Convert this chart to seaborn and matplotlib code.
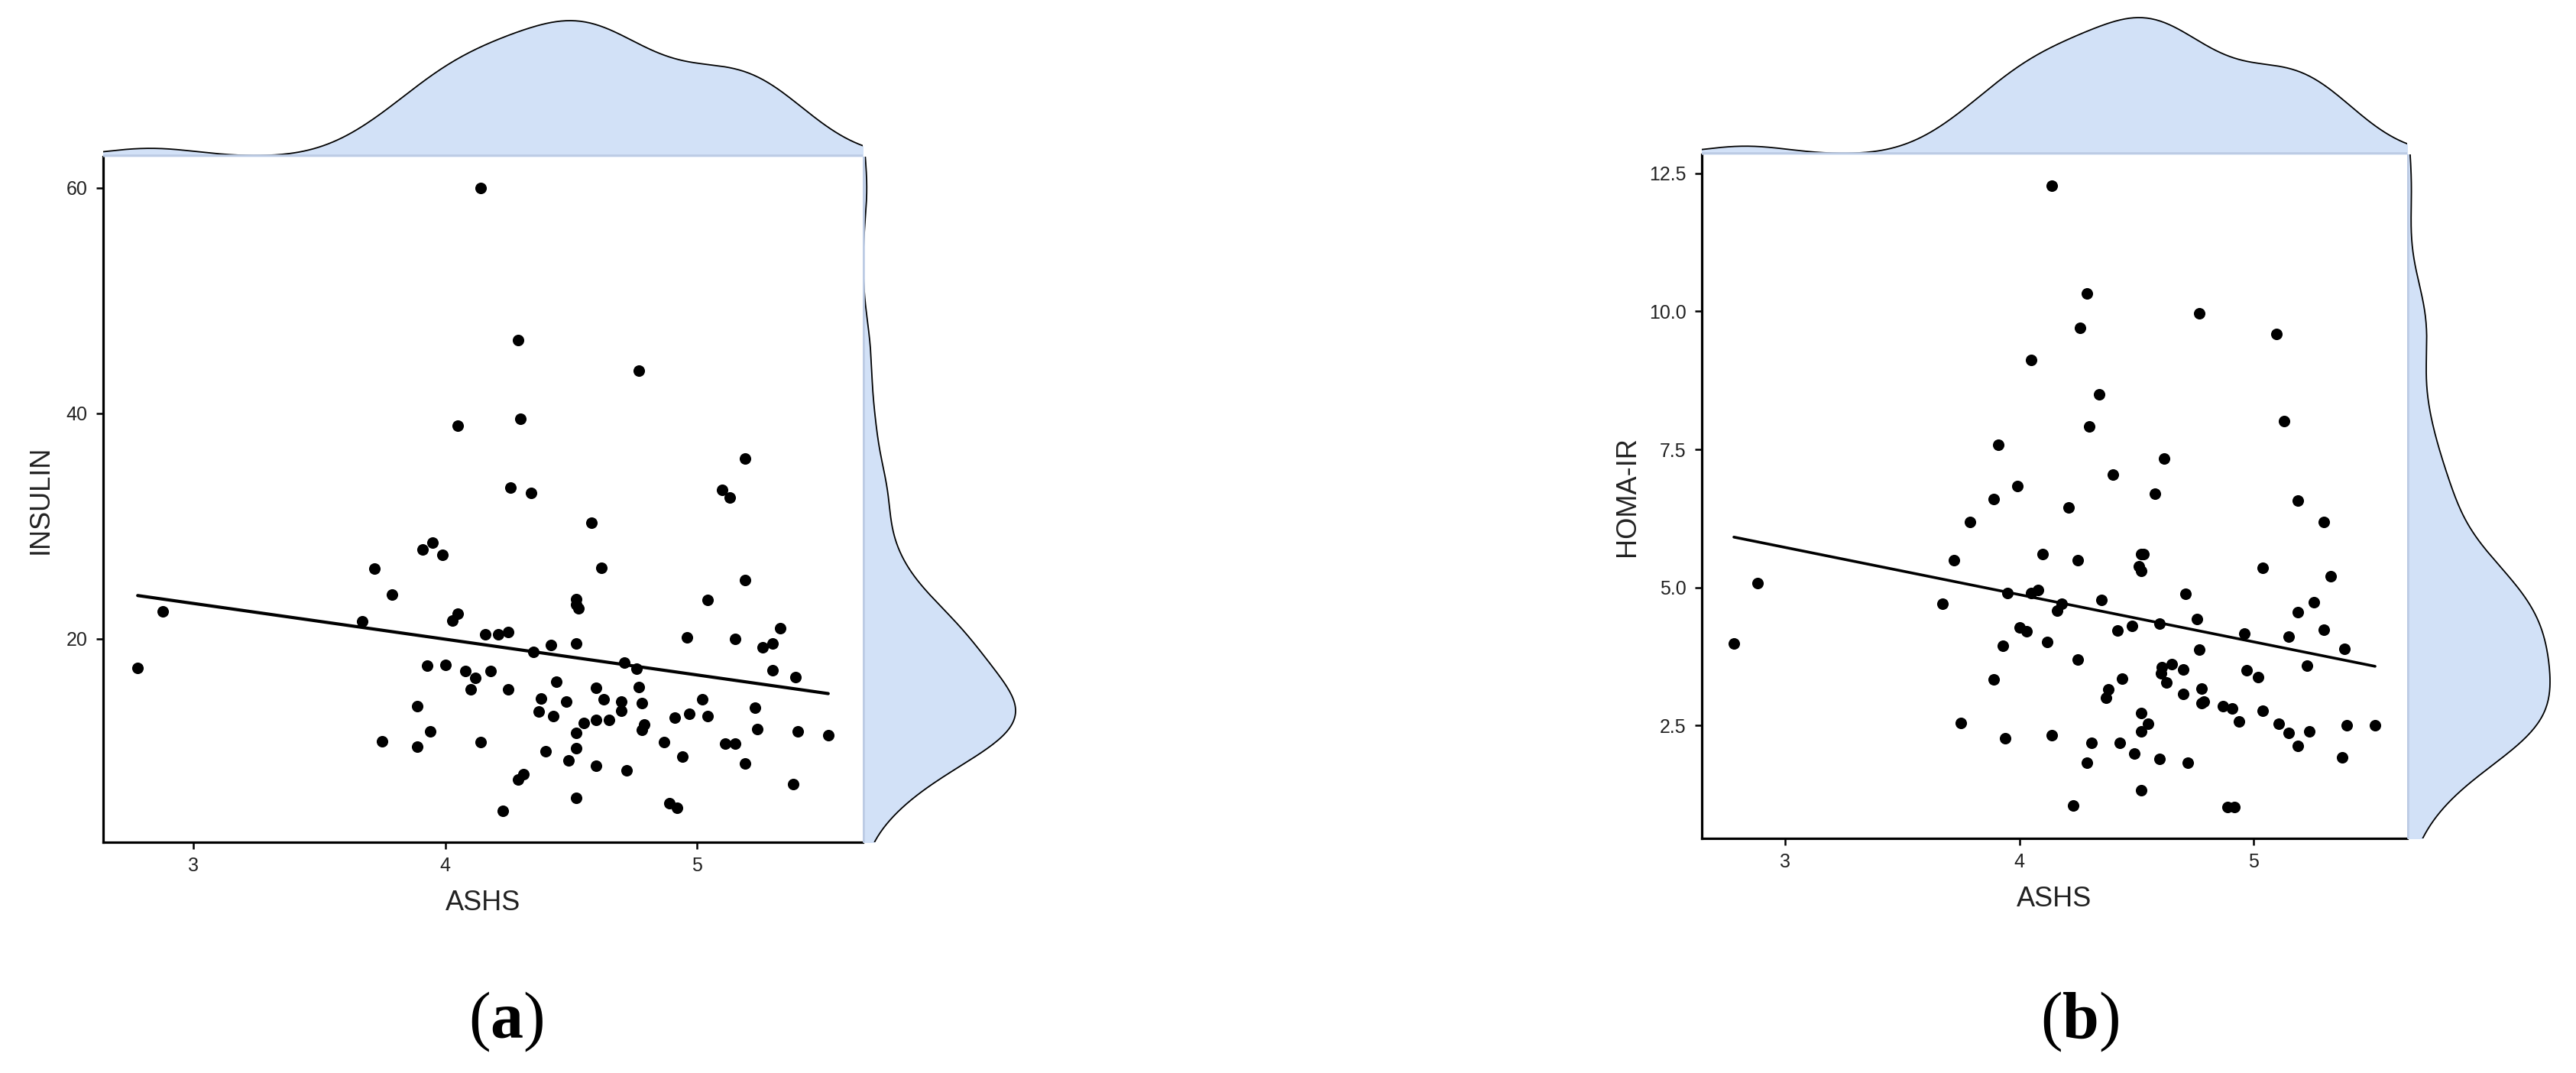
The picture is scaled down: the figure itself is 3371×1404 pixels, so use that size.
import matplotlib
matplotlib.use("Agg")
import matplotlib.pyplot as plt
import seaborn as sns

# ---- data ----
ashs_a = [2.78, 2.88, 3.67, 3.72, 3.79, 3.91, 3.95, 3.99, 4.03, 4.05,
          4.16, 4.21, 4.25, 4.35, 4.42, 4.52, 4.52, 4.53, 4.52, 4.58,
          4.62, 4.71, 4.76, 4.96, 5.04, 5.15, 5.19, 5.26, 5.30, 5.33,
          5.30, 5.39, 3.93, 4.00, 4.08, 4.12, 4.18, 4.10, 4.25, 4.44,
          4.60, 4.77, 3.89, 4.38, 4.48, 4.63, 4.70, 4.70, 4.78, 5.02,
          5.23, 4.37, 4.43, 4.60, 4.65, 4.91, 4.97, 5.04, 4.55, 4.79,
          4.78, 4.52, 3.94, 5.24, 5.40, 5.52, 3.75, 3.89, 4.14, 4.87,
          5.11, 5.15, 4.52, 4.40, 4.49, 4.94, 4.60, 4.72, 5.19, 4.31,
          4.29, 5.38, 4.52, 4.23, 4.89, 4.92,
          4.14, 4.29, 4.77, 4.30, 4.05, 5.19, 4.26, 4.34, 5.10, 5.13]
insulin = [17.4, 22.4, 21.5, 26.2, 23.9, 27.9, 28.5, 27.4, 21.6, 22.2,
           20.4, 20.4, 20.6, 18.8, 19.4, 23.5, 23.0, 22.7, 19.6, 30.3,
           26.3, 17.9, 17.3, 20.1, 23.4, 20.0, 25.2, 19.2, 19.6, 20.9,
           17.2, 16.6, 17.6, 17.7, 17.1, 16.5, 17.1, 15.5, 15.5, 16.2,
           15.6, 15.7, 14.0, 14.7, 14.4, 14.6, 14.4, 13.6, 14.3, 14.6,
           13.9, 13.5, 13.1, 12.8, 12.8, 13.0, 13.3, 13.1, 12.5, 12.4,
           11.9, 11.6, 11.8, 12.0, 11.8, 11.4, 10.9, 10.4, 10.8, 10.8,
           10.7, 10.7, 10.3, 10.0, 9.2, 9.5, 8.7, 8.3, 8.9, 8.0,
           7.5, 7.1, 5.9, 4.7, 5.4, 5.0,
           60.0, 46.5, 43.8, 39.5, 38.9, 36.0, 33.4, 32.9, 33.2, 32.5]

ashs_b = [2.78, 2.88, 3.67, 3.72, 3.79, 3.75, 3.91, 3.89, 3.99, 3.95,
          3.93, 3.89, 3.94, 4.05, 4.10, 4.00, 4.03, 4.05, 4.08, 4.12,
          4.14, 4.14, 4.16, 4.18, 4.21, 4.26, 4.25, 4.25, 4.29, 4.30,
          4.34, 4.35, 4.31, 4.29, 4.23, 4.40, 4.42, 4.38, 4.37, 4.44,
          4.43, 4.48, 4.49, 4.52, 4.53, 4.51, 4.52, 4.52, 4.52, 4.55,
          4.52, 4.58, 4.62, 4.60, 4.61, 4.605, 4.65, 4.63, 4.60, 4.70,
          4.70, 4.71, 4.72, 4.77, 4.76, 4.77, 4.78, 4.78, 4.79, 4.87,
          4.91, 4.94, 4.89, 4.92, 4.96, 4.97, 5.02, 5.04, 5.04, 5.10,
          5.13, 5.11, 5.15, 5.15, 5.19, 5.19, 5.19, 5.23, 5.24, 5.26,
          5.30, 5.30, 5.33, 5.39, 5.40, 5.38, 5.52]
homa_ir = [3.99, 5.08, 4.71, 5.50, 6.19, 2.55, 7.59, 6.60, 6.83, 4.90,
           3.95, 3.33, 2.27, 9.12, 5.60, 4.27, 4.21, 4.90, 4.95, 4.02,
           12.28, 2.32, 4.58, 4.70, 6.45, 9.70, 5.49, 3.70, 10.33, 7.91,
           8.50, 4.78, 2.19, 1.83, 1.05, 7.04, 4.22, 3.16, 3.01, 3.35,
           2.18, 4.30, 1.99, 5.61, 5.61, 5.38, 5.30, 2.73, 2.39, 2.53,
           1.33, 6.70, 7.34, 4.35, 3.56, 3.45, 3.61, 3.28, 1.89, 3.52,
           3.07, 4.88, 1.83, 9.96, 4.43, 3.87, 3.17, 2.91, 2.94, 2.85,
           2.81, 2.58, 1.02, 1.02, 4.17, 3.50, 3.38, 5.36, 2.77, 9.59,
           8.02, 2.53, 4.11, 2.36, 4.55, 6.58, 2.13, 3.59, 2.39, 4.74,
           6.19, 4.24, 5.21, 3.89, 2.51, 1.93, 2.51]

x_ticks = [3, 4, 5]
insulin_ticks = [20, 40, 60]
homa_ticks = [2.5, 5.0, 7.5, 10.0, 12.5]

FILL = "#d2e1f7"
STRIP = "#bccbe4"
W, H = 3371, 1404


def px_box(left, top, right, bottom):
    """Pixel box (from top-left) -> figure fraction [l, b, w, h]."""
    return [left / W, 1 - bottom / H, (right - left) / W, (bottom - top) / H]


def draw_panel(fig, x, y, ylabel, yticks, main, peak_top, peak_right,
               bw_x, bw_y, ylabelpad, line_w):
    left, top, right, bottom = main
    ax = fig.add_axes(px_box(left, top, right, bottom))
    sns.regplot(x=x, y=y, ax=ax, ci=None, color="black", truncate=True,
                scatter_kws=dict(s=118, linewidths=0, alpha=1),
                line_kws=dict(linewidth=line_w))
    ax.set_xticks(x_ticks)
    ax.set_yticks(yticks)
    sns.despine(ax=ax)
    for side in ["left", "bottom"]:
        ax.spines[side].set_linewidth(2.3)
        ax.spines[side].set_color("black")
    ax.tick_params(axis="both", length=6.5, width=1.8, color="black",
                   labelsize=18, labelcolor="#222222")
    ax.tick_params(axis="x", pad=7)
    ax.tick_params(axis="y", pad=8)
    ax.set_xlabel("ASHS", fontsize=26, labelpad=14, color="#222222")
    ax.set_ylabel(ylabel, fontsize=26, labelpad=ylabelpad, color="#222222")

    # top marginal density
    ax_top = fig.add_axes(px_box(left, 0, right, top))
    sns.kdeplot(x=x, ax=ax_top, fill=True, color=FILL, alpha=1,
                linewidth=0, bw_adjust=bw_x, gridsize=400)
    sns.kdeplot(x=x, ax=ax_top, color="black", linewidth=1.3,
                bw_adjust=bw_x, gridsize=400)
    peak = ax_top.lines[-1].get_ydata().max()
    ax_top.set_xlim(ax.get_xlim())
    ax_top.set_ylim(0, peak * top / peak_top)
    ax_top.axhline(0, color=STRIP, linewidth=4)
    ax_top.axis("off")

    # right marginal density
    ax_right = fig.add_axes(px_box(right, top, W, bottom))
    sns.kdeplot(y=y, ax=ax_right, fill=True, color=FILL, alpha=1,
                linewidth=0, bw_adjust=bw_y, gridsize=400)
    sns.kdeplot(y=y, ax=ax_right, color="black", linewidth=1.3,
                bw_adjust=bw_y, gridsize=400)
    peak = ax_right.lines[-1].get_xdata().max()
    ax_right.set_ylim(ax.get_ylim())
    ax_right.set_xlim(0, peak * (W - right) / peak_right)
    ax_right.axvline(0, color=STRIP, linewidth=4)
    ax_right.axis("off")
    return ax


sns.set_style("ticks")
plt.rcParams["font.family"] = ["Liberation Sans", "DejaVu Sans"]
plt.rcParams["mathtext.fontset"] = "custom"
plt.rcParams["mathtext.rm"] = "Liberation Serif"
plt.rcParams["mathtext.bf"] = "Liberation Serif:bold"

fig = plt.figure(figsize=(W / 100, H / 100), dpi=100)

draw_panel(fig, ashs_a, insulin, "INSULIN", insulin_ticks,
           main=(135, 205, 1129, 1102), peak_top=178, peak_right=200,
           bw_x=0.85, bw_y=0.75, ylabelpad=12, line_w=3.0)
draw_panel(fig, ashs_b, homa_ir, "HOMA-IR", homa_ticks,
           main=(2227, 202, 3150, 1097), peak_top=179, peak_right=187,
           bw_x=0.85, bw_y=0.8, ylabelpad=8, line_w=2.6)

fig.text(662 / W, 1 - 1337 / H, r"($\mathbf{a}$)", ha="center", va="center",
         fontsize=62, family="Liberation Serif", color="black")
fig.text(2722 / W, 1 - 1337 / H, r"($\mathbf{b}$)", ha="center", va="center",
         fontsize=62, family="Liberation Serif", color="black")

fig.savefig("out.png", dpi=100)
